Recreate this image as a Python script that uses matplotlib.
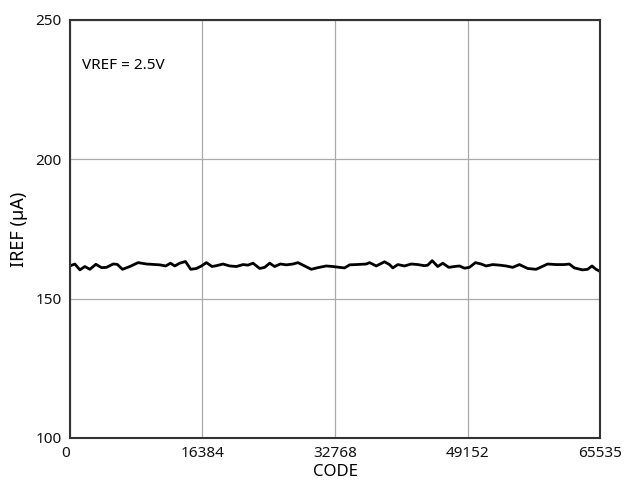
import matplotlib.pyplot as plt

plt.rcParams['font.family'] = ['Noto Sans', 'DejaVu Sans']

# values (code, IREF in uA)
codes = [0, 617, 1234, 1851, 2468, 3209, 3912, 4530, 5344, 5838, 6504, 7405,
         8430, 9466, 11108, 11848, 12428, 12959, 13576, 14279, 14933, 15637,
         16254, 16871, 17562, 18106, 18920, 19747,
         20574, 21389, 22006, 22623, 23450, 24067, 24684, 25301, 26004, 26745,
         27560, 28177, 29004, 29831, 30645, 31682, 32496, 33323, 33940, 34558,
         35385, 36619, 37026, 37853, 38877, 39494, 39901, 40518,
         41346, 42173, 42987, 43814, 44221, 44764, 45455, 46072, 46813, 47517,
         48134, 48751, 49368, 50108, 50812, 51429, 52243, 53071, 53897, 54712,
         55539, 56564, 57600, 59032, 60068, 61093, 61710, 62327, 63351, 63969,
         64512, 65005, 65535]
iref = [161.7, 162.4, 160.3, 161.5, 160.5, 162.3, 161.1, 161.2, 162.4, 162.3,
        160.5, 161.5, 162.9, 162.4, 162.1, 161.7, 162.7, 161.7, 162.7, 163.3,
        160.5, 160.8, 161.7, 162.9, 161.5, 161.8, 162.4, 161.7,
        161.5, 162.2, 162.0, 162.7, 160.8, 161.2, 162.7, 161.5, 162.4, 162.1,
        162.4, 162.9, 161.7, 160.5, 161.1, 161.7, 161.5, 161.2, 161.0, 162.1,
        162.2, 162.4, 162.9, 161.7, 163.2, 162.2, 161.0, 162.2,
        161.7, 162.4, 162.2, 161.8, 162.0, 163.6, 161.5, 162.7, 161.2, 161.5,
        161.7, 160.9, 161.2, 162.9, 162.4, 161.7, 162.2, 162.0, 161.7, 161.2,
        162.2, 160.8, 160.5, 162.4, 162.2, 162.2, 162.4, 161.0, 160.3, 160.5,
        161.7, 160.5, 159.7]

xticks = [0, 16384, 32768, 49152, 65535]
yticks = [100, 150, 200, 250]

fig = plt.figure(figsize=(6.24, 4.86), dpi=100)
ax = fig.add_axes([0.112, 0.099, 0.850, 0.860])

ax.plot(codes, iref, color="black", linewidth=2)

ax.set_xlim(0, 65535)
ax.set_ylim(100, 250)
ax.set_xticks(xticks)
ax.set_yticks(yticks)
ax.tick_params(length=0, labelsize=11, colors="#111111")
ax.tick_params(axis="y", pad=6)
ax.tick_params(axis="x", pad=6)
ax.grid(True, color="#aaaaaa", linewidth=0.9)

# "0" sits a little left of the spine in the reference
ax.get_xticklabels()[0].set_horizontalalignment("right")

for s in ax.spines.values():
    s.set_color("#333333")
    s.set_linewidth(1.5)

ax.set_xlabel("CODE", fontsize=12, labelpad=2)
ax.set_ylabel("IREF (µA)", fontsize=13, labelpad=5)
ax.text(0.023, 0.89, "VREF = 2.5V", transform=ax.transAxes, fontsize=11,
        va="center", ha="left")

fig.savefig("out.png", dpi=100)
